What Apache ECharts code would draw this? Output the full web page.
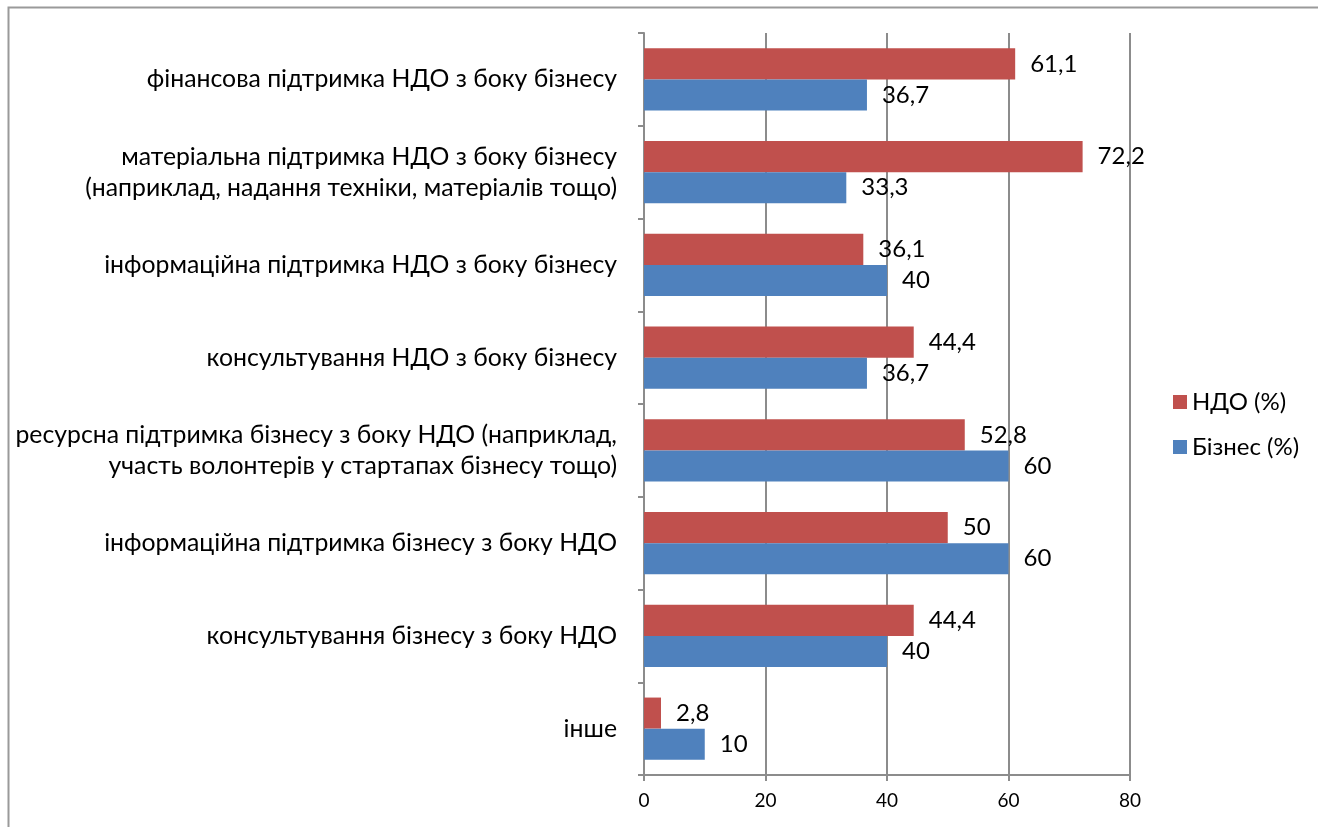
<!DOCTYPE html>
<html><head><meta charset="utf-8">
<script src="https://cdn.jsdelivr.net/npm/echarts@6/dist/echarts.min.js"></script>
<style>html,body{margin:0;padding:0;background:#fff}#c{width:1318px;height:827px}</style>
</head><body><div id="c"></div>
<script>
const categories = [
  'фінансова підтримка НДО з боку бізнесу',
  'матеріальна підтримка НДО з боку бізнесу\n(наприклад, надання техніки, матеріалів тощо)',
  'інформаційна підтримка НДО з боку бізнесу',
  'консультування НДО з боку бізнесу',
  'ресурсна підтримка бізнесу з боку НДО (наприклад,\nучасть волонтерів у стартапах бізнесу тощо)',
  'інформаційна підтримка бізнесу з боку НДО',
  'консультування бізнесу з боку НДО',
  'інше'
];
const ngoValues = [61.1, 72.2, 36.1, 44.4, 52.8, 50, 44.4, 2.8];
const bizValues = [36.7, 33.3, 40, 36.7, 60, 60, 40, 10];
const seriesNames = ['НДО (%)', 'Бізнес (%)'];
const xTicks = [0, 20, 40, 60, 80];

const FONT = 'Lato, "Open Sans", sans-serif';
const chart = echarts.init(document.getElementById('c'), null, {renderer: 'canvas'});
const fmt = p => String(p.value).replace('.', ',');
chart.setOption({
  animation: false,
  backgroundColor: '#fff',
  graphic: [{
    type: 'rect', shape: {x: 8.5, y: 7.5, width: 1400, height: 900},
    style: {fill: 'none', stroke: '#9a9a9a', lineWidth: 2}, silent: true, z: 0
  }],
  grid: {left: 644, right: 188, top: 33, bottom: 52, containLabel: false},
  legend: {
    orient: 'vertical', left: 1168, top: 385, itemGap: 21,
    itemWidth: 14, itemHeight: 14, icon: 'rect', itemTextGap: 9,
    textStyle: {fontFamily: FONT, fontSize: 24, color: '#000'},
    data: seriesNames
  },
  xAxis: {
    type: 'value', min: xTicks[0], max: xTicks[xTicks.length - 1], interval: 20,
    axisLine: {show: true, lineStyle: {color: '#8c8c8c', width: 2}},
    axisTick: {show: true, length: 6, lineStyle: {color: '#8c8c8c', width: 2}},
    axisLabel: {fontFamily: FONT, fontSize: 19, color: '#000', margin: 16},
    splitLine: {show: true, lineStyle: {color: '#8c8c8c', width: 2}}
  },
  yAxis: {
    type: 'category', inverse: true, data: categories,
    axisLine: {show: true, lineStyle: {color: '#8c8c8c', width: 2}},
    axisTick: {show: true, length: 6, lineStyle: {color: '#8c8c8c', width: 2}},
    axisLabel: {fontFamily: FONT, fontSize: 24.8, color: '#000', margin: 27, lineHeight: 31, align: 'right'}
  },
  series: [
    {
      name: seriesNames[0], type: 'bar', data: ngoValues, barGap: '0%', barCategoryGap: '33%',
      itemStyle: {color: '#C0504D'},
      label: {show: true, position: 'right', distance: 15, formatter: fmt,
        fontFamily: FONT, fontSize: 24, color: '#000'}
    },
    {
      name: seriesNames[1], type: 'bar', data: bizValues, barGap: '0%', barCategoryGap: '33%',
      itemStyle: {color: '#4F81BD'},
      label: {show: true, position: 'right', distance: 15, formatter: fmt,
        fontFamily: FONT, fontSize: 24, color: '#000'}
    }
  ]
});
</script></body></html>
